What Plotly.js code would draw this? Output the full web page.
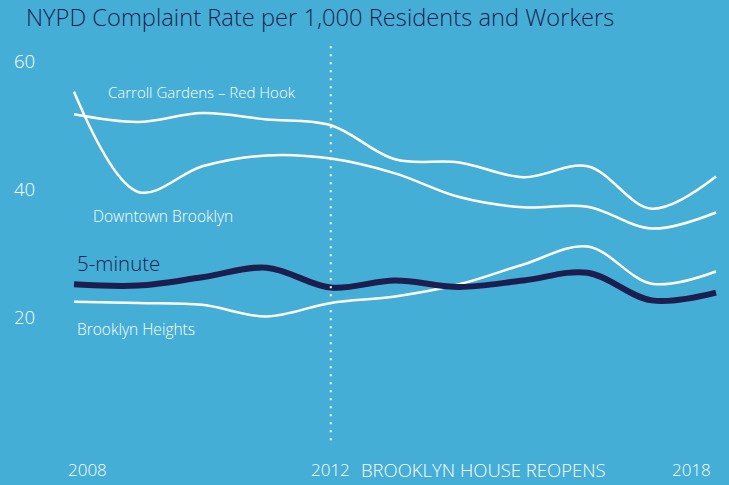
<!DOCTYPE html>
<html>
<head>
<meta charset="utf-8">
<script src="https://cdn.plot.ly/plotly-3.0.1.min.js"></script>
<style>
  html, body { margin: 0; padding: 0; background: #45aed6; }
  #chart { width: 729px; height: 485px; }
</style>
</head>
<body>
<div id="chart"></div>
<script>
// NYPD complaint rate per 1,000 residents and workers, 2008–2018
const years = [2008, 2009, 2010, 2011, 2012, 2013, 2014, 2015, 2016, 2017, 2018];
const carrollGardens = [51.7, 50.5, 51.9, 50.9, 50.0, 44.7, 44.2, 41.9, 43.6, 37.0, 42.0];
const downtownBrooklyn = [55.2, 39.6, 43.6, 45.3, 44.8, 42.5, 38.8, 37.2, 37.3, 33.9, 36.4];
const brooklynHeights = [22.5, 22.3, 22.0, 20.2, 22.3, 23.3, 25.2, 28.3, 31.1, 25.3, 27.2];
const fiveMinute = [25.2, 25.0, 26.3, 27.8, 24.7, 25.8, 24.8, 25.8, 27.0, 22.7, 23.9];

const yTicks = [20, 40, 60];
const xLabels = ['2008', '2012', '2018'];
const reopenYear = 2012;

const BG = '#45aed6';
const NAVY = '#1c1e4f';
const FONT = 'Open Sans, Lato, sans-serif';

function whiteLine(ys, name) {
  return {
    x: years, y: ys, name, type: 'scatter', mode: 'lines',
    line: { color: '#ffffff', width: 2.5, shape: 'spline', smoothing: 1 },
    hoverinfo: 'skip'
  };
}

const traces = [
  whiteLine(carrollGardens, 'Carroll Gardens – Red Hook'),
  whiteLine(downtownBrooklyn, 'Downtown Brooklyn'),
  whiteLine(brooklynHeights, 'Brooklyn Heights'),
  {
    x: years, y: fiveMinute, name: '5-minute', type: 'scatter', mode: 'lines',
    line: { color: NAVY, width: 6, shape: 'spline', smoothing: 1 },
    hoverinfo: 'skip'
  }
];

function label(text, x, y, size, color, anchor) {
  return {
    text, x, y, xref: 'x', yref: 'y', showarrow: false,
    xanchor: anchor || 'left', yanchor: 'middle',
    font: { family: FONT, size, color, weight: 300 }
  };
}

// bottom row sits under the plot area, so place it in paper units
function bottom(text, x, anchor, size) {
  return {
    text, x, y: -23 / 406, xref: 'x', yref: 'paper', showarrow: false,
    xanchor: anchor, yanchor: 'middle',
    font: { family: FONT, size: size || 17, color: '#ffffff', weight: 300 }
  };
}

const annotations = [
  label('Carroll Gardens – Red Hook', 2008.50, 55.2, 15, '#ffffff'),
  label('Downtown Brooklyn', 2008.26, 35.9, 15.5, '#ffffff'),
  label('5-minute', 2008.01, 28.6, 20.5, NAVY),
  label('Brooklyn Heights', 2008.01, 18.3, 15.5, '#ffffff'),
  bottom('BROOKLYN HOUSE REOPENS', reopenYear + 0.44, 'left', 18.5),
  bottom(xLabels[0], 2007.88, 'left'),
  bottom(xLabels[1], reopenYear, 'center'),
  bottom(xLabels[2], 2017.95, 'right')
];

const layout = {
  width: 729,
  height: 485,
  paper_bgcolor: BG,
  plot_bgcolor: BG,
  margin: { l: 48, r: 4, t: 39, b: 39 },
  showlegend: false,
  title: {
    text: 'NYPD Complaint Rate per 1,000 Residents and Workers',
    x: 26 / 729, xref: 'container', xanchor: 'left',
    y: 1 - 18 / 485, yref: 'container', yanchor: 'middle',
    font: { family: FONT, size: 23.7, color: NAVY, weight: 300 }
  },
  xaxis: {
    range: [2007.595, 2018.14],
    showgrid: false, zeroline: false, showline: false,
    showticklabels: false, ticks: ''
  },
  yaxis: {
    range: [0, 63.44],
    tickvals: yTicks,
    ticktext: yTicks.map(String),
    showgrid: false, zeroline: false, showline: false, ticks: '',
    ticklabelstandoff: 12,
    tickfont: { family: FONT, size: 18.5, color: '#ffffff', weight: 300 }
  },
  shapes: [{
    type: 'line', xref: 'x', yref: 'y',
    x0: reopenYear, x1: reopenYear, y0: 0.9, y1: 63.1,
    line: { color: '#ffffff', width: 2, dash: '2px,6px' }
  }],
  annotations
};

Plotly.newPlot('chart', traces, layout, { displayModeBar: false, staticPlot: true });
</script>
</body>
</html>
